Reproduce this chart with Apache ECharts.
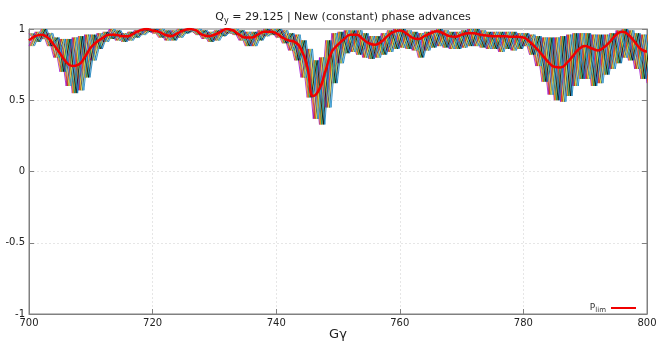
<!DOCTYPE html>
<html lang="en">
<head>
<meta charset="UTF-8">
<title>Qy = 29.125 phase advances</title>
<script src="https://cdn.jsdelivr.net/npm/echarts@6/dist/echarts.min.js"></script>
<style>
    html, body { margin: 0; padding: 0; background: #fff; }
    #chart { width: 665px; height: 343px; }
</style>
</head>
<body>
<div id="chart"></div>
<script>
// G gamma grid: one sample per unit, 700 .. 800
var gStart = 700;

// upper edge of the spin-tracking band
var bandUpper = [
    .97, .98, 1.0, .97, .94, .93, .93, .94, .95, .96,
    .96, .97, .98, 1.0, .99, .97, .98, .99, 1.0, 1.0,
    1.0, 1.0, .99, .99, 1.0, 1.0, 1.0, 1.0, .99, .98,
    .99, 1.0, 1.0, 1.0, .99, .98, .98, .99, 1.0, 1.0,
    1.0, .99, .97, .96, .92, .86, .78, .80, .92, .97,
    .98, .99, .99, .99, .97, .95, .95, .97, .99, 1.0,
    1.0, .99, .98, .97, .98, .99, 1.0, .99, .98, .98,
    .99, 1.0, 1.0, .99, .98, .98, .98, .98, .98, .97,
    .97, .96, .95, .94, .94, .94, .95, .96, .97, .97,
    .97, .96, .96, .96, .97, .99, 1.0, .99, .97, .96, .96
];

// lower edge of the band
var bandLower = [
    .88, .91, .93, .88, .80, .70, .60, .55, .57, .66,
    .78, .86, .91, .93, .92, .91, .92, .94, .96, .98,
    .97, .94, .92, .92, .94, .97, .98, .96, .93, .91,
    .92, .95, .97, .96, .92, .88, .88, .92, .95, .96,
    .94, .90, .85, .78, .66, .52, .37, .33, .45, .62,
    .76, .83, .84, .82, .80, .79, .80, .82, .84, .86,
    .87, .86, .85, .80, .85, .87, .88, .87, .86, .86,
    .87, .88, .88, .87, .86, .86, .84, .86, .85, .86,
    .88, .82, .74, .63, .54, .50, .49, .53, .60, .65,
    .65, .60, .62, .68, .72, .76, .80, .78, .72, .65, .62
];

// P_lim curve
var pLim = [
    .92, .95, .96, .94, .89, .83, .77, .74, .75, .80,
    .87, .91, .94, .96, .96, .95, .95, .97, .99, 1.0,
    .99, .98, .96, .95, .97, .99, 1.0, .99, .96, .95,
    .96, .98, 1.0, .99, .96, .94, .94, .96, .98, .98,
    .97, .94, .92, .91, .86, .74, .53, .58, .71, .84,
    .89, .93, .96, .96, .93, .90, .89, .91, .95, .98,
    .99, .97, .94, .93, .95, .97, .985, .97, .95, .945,
    .96, .97, .97, .96, .955, .95, .95, .95, .945, .945,
    .94, .91, .87, .82, .77, .735, .73, .76, .81, .86,
    .88, .865, .85, .87, .91, .96, .98, .96, .91, .86, .84
];

var lineColors = ['#9400d3', '#009e73', '#56b4e9', '#e69f00', '#f0e442', '#0072b2', '#e51e10', '#000000'];

var chart = echarts.init(document.getElementById('chart'));

var series = [];

// band fill underneath the oscillating lines
var baseData = [], thickData = [];
for (var i = 0; i < bandUpper.length; i++) {
    baseData.push([gStart + i, bandLower[i]]);
    thickData.push([gStart + i, +(bandUpper[i] - bandLower[i]).toFixed(3)]);
}
series.push({
    type: 'line', stack: 'band', data: baseData, symbol: 'none',
    lineStyle: { opacity: 0 }, silent: true
});
series.push({
    type: 'line', stack: 'band', data: thickData, symbol: 'none',
    lineStyle: { opacity: 0 }, areaStyle: { color: '#4f5568', opacity: 0.6 }, silent: true
});

// oscillating tracks: each one swings between the band edges
for (var k = 0; k < 16; k++) {
    var off = (k % 8) * 0.125;
    var flip = k >= 8 ? 1 : 0;
    var pts = [];
    for (var j = 0; j < bandUpper.length; j++) {
        var v = ((j + flip + k) % 2 === 0) ? bandUpper[j] : bandLower[j];
        pts.push([gStart + j + off, v]);
    }
    series.push({
        type: 'line', data: pts, symbol: 'none', silent: true,
        lineStyle: { width: 0.9, color: lineColors[(k * 3) % 8], opacity: 0.85 }
    });
}

var plimData = [];
for (var m = 0; m < pLim.length; m++) plimData.push([gStart + m, pLim[m]]);
series.push({
    name: 'P_lim', type: 'line', data: plimData, symbol: 'none', smooth: true,
    lineStyle: { width: 2.5, color: '#f00000' }, itemStyle: { color: '#f00000' }, z: 5
});

var option = {
    animation: false,
    backgroundColor: '#fff',
    title: {
        text: 'Q{s|y} = 29.125 | New (constant) phase advances',
        left: 338, textAlign: 'center', top: 5,
        textStyle: {
            fontFamily: 'DejaVu Sans', fontSize: 11, fontWeight: 'normal', color: '#222',
            rich: { s: { fontSize: 8, fontFamily: 'DejaVu Sans', color: '#222', padding: [7, 0, 0, 0] } }
        }
    },
    legend: {
        data: ['P_lim'], right: 24, bottom: 24, align: 'right',
        icon: 'rect', itemWidth: 25, itemHeight: 2,
        formatter: function () { return 'P{s|lim}'; },
        textStyle: {
            fontFamily: 'DejaVu Sans', fontSize: 9, color: '#333',
            rich: { s: { fontSize: 7, fontFamily: 'DejaVu Sans', color: '#333', padding: [5, 0, 0, 0] } }
        }
    },
    grid: {
        left: 29, right: 18, top: 29, bottom: 29, outerBoundsMode: 'none',
        show: true, borderColor: '#808080', borderWidth: 1
    },
    xAxis: {
        type: 'value', min: 700, max: 800, interval: 20,
        name: 'Gγ', nameLocation: 'middle', nameGap: 14, nameMoveOverlap: false,
        nameTextStyle: { fontFamily: 'DejaVu Sans', fontSize: 13, color: '#222' },
        axisLine: { onZero: false, lineStyle: { color: '#808080' } },
        axisTick: { inside: true, length: 5, lineStyle: { color: '#808080' } },
        axisLabel: { fontFamily: 'DejaVu Sans', fontSize: 10, color: '#222', margin: 4 },
        splitLine: { show: true, showMinLine: false, showMaxLine: false, lineStyle: { color: '#e6e6e6', type: [2, 2] } }
    },
    yAxis: [{
        type: 'value', min: -1, max: 1, interval: 0.5,
        axisLine: { show: true, onZero: false, lineStyle: { color: '#808080' } },
        axisTick: { show: true, inside: true, length: 5, lineStyle: { color: '#808080' } },
        axisLabel: { fontFamily: 'DejaVu Sans', fontSize: 10, color: '#222', margin: 4 },
        splitLine: { show: true, showMinLine: false, showMaxLine: false, lineStyle: { color: '#e6e6e6', type: [2, 2] } }
    }, {
        type: 'value', min: -1, max: 1, interval: 0.5, position: 'right',
        axisLine: { show: true, onZero: false, lineStyle: { color: '#808080' } },
        axisTick: { show: true, inside: true, length: 5, lineStyle: { color: '#808080' } },
        axisLabel: { show: false }, splitLine: { show: false }
    }],
    series: series
};

chart.setOption(option);
</script>
</body>
</html>
